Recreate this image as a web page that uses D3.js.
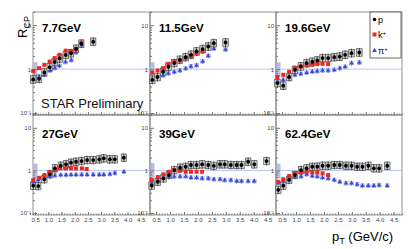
<!DOCTYPE html>
<html>
<head>
<meta charset="utf-8">
<script src="https://cdn.jsdelivr.net/npm/d3@7"></script>
<style>
body { margin: 0; background: #fff; }
svg { display: block; font-family: "Liberation Sans", Arial, sans-serif; }
</style>
</head>
<body>
<div id="chart"></div>
<script>
// panel labels, in order left-to-right, top-to-bottom
var energies = ['7.7GeV', '11.5GeV', '19.6GeV', '27GeV', '39GeV', '62.4GeV'];
var xTicks = [0.5, 1, 1.5, 2, 2.5, 3, 3.5, 4, 4.5];
var yTicks = [0.1, 1, 10];

// proton (black)
var protonPt = [
  [0.43, 0.65, 0.85, 1.05, 1.24, 1.43, 1.66, 1.86, 2.05, 2.25, 2.7],
  [0.36, 0.55, 0.75, 0.94, 1.15, 1.35, 1.56, 1.75, 1.95, 2.17, 2.37, 2.57, 2.99],
  [0.33, 0.54, 0.75, 0.96, 1.17, 1.38, 1.58, 1.76, 1.95, 2.15, 2.37, 2.57, 2.76, 2.99, 3.27],
  [0.43, 0.62, 0.85, 1.06, 1.25, 1.47, 1.67, 1.86, 2.05, 2.26, 2.47, 2.7, 2.93, 3.1, 3.33, 3.52, 3.86],
  [0.34, 0.56, 0.76, 0.96, 1.15, 1.36, 1.56, 1.75, 1.95, 2.15, 2.37, 2.57, 2.79, 2.96, 3.18, 3.39, 3.56, 3.8, 4.02, 4.46],
  [0.36, 0.54, 0.75, 0.96, 1.18, 1.38, 1.58, 1.76, 1.95, 2.15, 2.37, 2.57, 2.79, 2.99, 3.19, 3.38, 3.59, 3.79, 3.98, 4.27]
];
var protonRcp = [
  [0.58, 0.6, 0.84, 1.1, 1.45, 1.75, 2.1, 2.3, 2.9, 3.8, 4.2],
  [0.57, 0.66, 0.87, 1.13, 1.37, 1.63, 1.87, 2.12, 2.52, 2.86, 3.27, 3.9, 4.04],
  [0.48, 0.42, 0.66, 0.96, 1.15, 1.37, 1.47, 1.57, 1.78, 1.78, 1.87, 1.93, 2.12, 2.31, 2.39],
  [0.44, 0.43, 0.62, 0.81, 1.12, 1.29, 1.39, 1.52, 1.6, 1.66, 1.75, 1.75, 1.82, 1.92, 1.82, 1.82, 1.99],
  [0.44, 0.54, 0.65, 0.78, 1.02, 1.16, 1.22, 1.34, 1.34, 1.39, 1.34, 1.28, 1.39, 1.39, 1.34, 1.34, 1.34, 1.6, 1.39, 1.66],
  [0.35, 0.44, 0.6, 0.78, 1.02, 1.12, 1.22, 1.22, 1.29, 1.29, 1.34, 1.34, 1.29, 1.29, 1.22, 1.22, 1.29, 1.12, 1.12, 1.29]
];

// kaon (red)
var kaonPt = [
  [0.43, 0.65, 0.85, 1.05, 1.24, 1.43, 1.66, 1.86, 2.05, 2.25],
  [0.36, 0.55, 0.75, 0.94, 1.15, 1.35, 1.56, 1.75, 1.95, 2.17],
  [0.33, 0.54, 0.75, 0.96, 1.17, 1.38, 1.58, 1.76, 1.95, 2.15],
  [0.43, 0.65, 0.85, 1.06, 1.25, 1.44, 1.67, 1.86, 2.05, 2.27, 2.45],
  [0.34, 0.56, 0.76, 0.96, 1.15, 1.36, 1.56, 1.75, 1.95, 2.15],
  [0.36, 0.54, 0.75, 0.96, 1.18, 1.38, 1.58, 1.76, 1.95, 2.15]
];
var kaonRcp = [
  [0.91, 1.05, 1.25, 1.49, 1.78, 2.12, 2.63, 2.52, 2.86, 4.0],
  [0.83, 0.93, 1.05, 1.32, 1.49, 1.57, 1.78, 2.0, 2.31, 2.52],
  [0.66, 0.74, 0.87, 1.05, 1.15, 1.21, 1.25, 1.3, 1.32, 1.3],
  [0.59, 0.67, 0.78, 0.9, 1.02, 1.12, 1.12, 1.12, 1.12, 1.12, 1.08],
  [0.59, 0.7, 0.81, 0.93, 1.02, 0.98, 0.93, 0.93, 0.93, 0.93],
  [0.54, 0.62, 0.74, 0.86, 0.9, 0.93, 0.9, 0.9, 0.86, 0.78]
];

// pion (blue)
var pionPt = [
  [0.43, 0.65, 0.85, 1.07, 1.25, 1.42, 1.65, 1.87, 2.05, 2.27],
  [0.36, 0.55, 0.75, 0.94, 1.15, 1.35, 1.56, 1.75, 1.95, 2.17, 2.37, 2.57, 2.99],
  [0.33, 0.54, 0.75, 0.96, 1.17, 1.38, 1.58, 1.76, 1.95, 2.15, 2.37, 2.57, 2.76, 2.99, 3.27],
  [0.43, 0.62, 0.85, 1.06, 1.25, 1.47, 1.67, 1.86, 2.05, 2.26, 2.47, 2.7, 2.93, 3.1, 3.33, 3.52, 3.86],
  [0.34, 0.56, 0.76, 0.96, 1.15, 1.36, 1.56, 1.75, 1.95, 2.15, 2.37, 2.57, 2.79, 2.96, 3.18, 3.39, 3.56, 3.8, 4.02],
  [0.36, 0.54, 0.75, 0.96, 1.18, 1.38, 1.58, 1.76, 1.95, 2.15, 2.37, 2.57, 2.79, 2.99, 3.19, 3.38, 3.59, 3.79, 3.98, 4.27]
];
var pionRcp = [
  [0.58, 0.66, 0.74, 0.93, 1.05, 1.19, 1.45, 1.6, 2.4, 3.5],
  [0.57, 0.68, 0.72, 0.8, 0.86, 0.93, 1.03, 1.15, 1.22, 1.5, 2.0, 2.9, 2.8],
  [0.52, 0.57, 0.66, 0.74, 0.78, 0.83, 0.87, 0.9, 0.93, 0.93, 0.96, 1.05, 1.13, 1.37, 1.41],
  [0.54, 0.6, 0.7, 0.74, 0.76, 0.78, 0.78, 0.79, 0.79, 0.8, 0.8, 0.8, 0.8, 0.8, 0.82, 0.86, 0.93],
  [0.5, 0.6, 0.68, 0.72, 0.72, 0.72, 0.72, 0.68, 0.68, 0.65, 0.65, 0.62, 0.62, 0.59, 0.59, 0.56, 0.56, 0.56, 0.56],
  [0.5, 0.56, 0.65, 0.72, 0.72, 0.81, 0.74, 0.72, 0.68, 0.65, 0.6, 0.54, 0.5, 0.5, 0.47, 0.44, 0.44, 0.44, 0.45, 0.44]
];

// normalisation uncertainty band around 1
var normLow = [0.62, 0.6, 0.66, 0.6, 0.55, 0.64];
var normHigh = [1.44, 1.44, 1.44, 1.44, 1.5, 1.44];

var W = 415, H = 249;
var svg = d3.select('#chart').append('svg').attr('width', W).attr('height', H);

var cols = [[33, 150], [150, 276], [276, 402]];
var rows = [[12, 115], [115, 215]];
var xDomains = [[0.42, 4.85], [0.28, 4.8], [0.28, 4.8]];
var labelBase = [31.5, 138];

var minorX = d3.range(3, 49).map(function(d) { return d / 10; });
var minorY = [0.2, 0.3, 0.4, 0.5, 0.6, 0.7, 0.8, 0.9, 2, 3, 4, 5, 6, 7, 8, 9, 20];

function supFmt(d) { return d == 0.1 ? '10\u207B\u00B9' : (d == 1 ? '1' : '10'); }

energies.forEach(function(label, i) {
  var c = i % 3, r = Math.floor(i / 3);
  var x = d3.scaleLinear().domain(xDomains[c]).range(cols[c]);
  var y = d3.scaleLog().domain([0.09, 20]).range([rows[r][1], rows[r][0]]);
  var g = svg.append('g');

  // frame
  g.append('rect')
    .attr('x', cols[c][0]).attr('y', rows[r][0])
    .attr('width', cols[c][1] - cols[c][0]).attr('height', rows[r][1] - rows[r][0])
    .attr('fill', 'none').attr('stroke', '#777').attr('stroke-width', 0.8);

  // norm band
  g.append('rect')
    .attr('x', x(xDomains[c][0]) + 0.5).attr('y', y(normHigh[i]))
    .attr('width', 4).attr('height', y(normLow[i]) - y(normHigh[i]))
    .attr('fill', '#a9b0e2').attr('opacity', 0.85);

  // line at unity
  g.append('line')
    .attr('x1', cols[c][0]).attr('x2', cols[c][1])
    .attr('y1', y(1)).attr('y2', y(1))
    .attr('stroke', '#bcc3ec').attr('stroke-width', 1);

  // minor ticks
  g.append('g').attr('transform', 'translate(0,' + rows[r][1] + ')')
    .call(d3.axisBottom(x).tickValues(minorX).tickSizeInner(-1.5).tickSizeOuter(0).tickFormat(''))
    .call(function(a) { a.select('.domain').remove(); a.selectAll('line').attr('stroke', '#777'); });
  g.append('g').attr('transform', 'translate(' + cols[c][0] + ',0)')
    .call(d3.axisLeft(y).tickValues(minorY).tickSizeInner(-2).tickSizeOuter(0).tickFormat(''))
    .call(function(a) { a.select('.domain').remove(); a.selectAll('line').attr('stroke', '#777'); });

  // major ticks
  var xa = d3.axisBottom(x).tickValues(xTicks).tickSizeInner(-3).tickSizeOuter(0).tickPadding(3);
  if (r == 0) xa.tickFormat('');
  g.append('g').attr('transform', 'translate(0,' + rows[r][1] + ')')
    .call(xa)
    .call(function(a) {
      a.select('.domain').remove();
      a.selectAll('line').attr('stroke', '#777');
      a.selectAll('text').attr('font-size', 6).attr('fill', '#444').attr('font-family', 'Liberation Sans, Arial, sans-serif');
    });
  g.append('g').attr('transform', 'translate(' + cols[c][0] + ',0)')
    .call(d3.axisLeft(y).tickValues(yTicks).tickSizeInner(-4).tickSizeOuter(0).tickPadding(2).tickFormat(supFmt))
    .call(function(a) {
      a.select('.domain').remove();
      a.selectAll('line').attr('stroke', '#777');
      a.selectAll('text').attr('font-size', 6).attr('fill', '#444').attr('font-family', 'Liberation Sans, Arial, sans-serif');
    });

  var pion = pionPt[i].map(function(p, j) { return {pt: p, v: pionRcp[i][j]}; });
  var proton = protonPt[i].map(function(p, j) { return {pt: p, v: protonRcp[i][j]}; });
  var kaon = kaonPt[i].map(function(p, j) { return {pt: p, v: kaonRcp[i][j]}; });

  // systematic boxes
  g.selectAll('.pibox').data(pion).enter().append('rect')
    .attr('x', function(d) { return x(d.pt - 0.07); })
    .attr('y', function(d) { return y(d.v * 1.1); })
    .attr('width', function(d) { return x(d.pt + 0.07) - x(d.pt - 0.07); })
    .attr('height', function(d) { return y(d.v / 1.1) - y(d.v * 1.1); })
    .attr('fill', '#eef0fa').attr('stroke', '#a3addf').attr('stroke-width', 0.6);

  g.selectAll('.pbox').data(proton).enter().append('rect')
    .attr('x', function(d) { return x(d.pt - 0.1); })
    .attr('y', function(d) { return y(d.v * 1.22); })
    .attr('width', function(d) { return x(d.pt + 0.1) - x(d.pt - 0.1); })
    .attr('height', function(d) { return y(d.v / 1.22) - y(d.v * 1.22); })
    .attr('fill', '#cdcdcd').attr('stroke', '#555').attr('stroke-width', 0.7);

  // error bars
  g.selectAll('.perr').data(proton).enter().append('line')
    .attr('x1', function(d) { return x(d.pt); }).attr('x2', function(d) { return x(d.pt); })
    .attr('y1', function(d) { return y(d.v * 1.27); }).attr('y2', function(d) { return y(d.v / 1.27); })
    .attr('stroke', '#222').attr('stroke-width', 0.7);
  g.selectAll('.pierr').data(pion).enter().append('line')
    .attr('x1', function(d) { return x(d.pt); }).attr('x2', function(d) { return x(d.pt); })
    .attr('y1', function(d) { return y(d.v * 1.14); }).attr('y2', function(d) { return y(d.v / 1.14); })
    .attr('stroke', '#3b4fd6').attr('stroke-width', 0.6);

  // markers
  g.selectAll('.pi').data(pion).enter().append('path')
    .attr('d', d3.symbol().type(d3.symbolTriangle).size(9))
    .attr('transform', function(d) { return 'translate(' + x(d.pt) + ',' + y(d.v) + ')'; })
    .attr('fill', '#3448dc');
  g.selectAll('.k').data(kaon).enter().append('rect')
    .attr('x', function(d) { return x(d.pt) - 2; })
    .attr('y', function(d) { return y(d.v) - 2; })
    .attr('width', 4).attr('height', 4)
    .attr('fill', '#ea2a22');
  g.selectAll('.p').data(proton).enter().append('circle')
    .attr('cx', function(d) { return x(d.pt); })
    .attr('cy', function(d) { return y(d.v); })
    .attr('r', 1.9).attr('fill', '#000');

  // energy label
  g.append('text')
    .attr('x', cols[c][0] + 9).attr('y', labelBase[r])
    .attr('font-size', 11.5).attr('font-weight', 'bold').attr('fill', '#000')
    .text(label);
});

// legend
var leg = svg.append('g');
leg.append('rect').attr('x', 370).attr('y', 12).attr('width', 31).attr('height', 46)
  .attr('fill', '#fff').attr('stroke', '#444').attr('stroke-width', 0.8);
leg.append('circle').attr('cx', 374.5).attr('cy', 19.5).attr('r', 1.8).attr('fill', '#000');
leg.append('rect').attr('x', 372.5).attr('y', 32.5).attr('width', 4).attr('height', 4).attr('fill', '#ea2a22');
leg.append('path').attr('d', d3.symbol().type(d3.symbolTriangle).size(10))
  .attr('transform', 'translate(374.5,50.5)').attr('fill', '#3448dc');
leg.append('text').attr('x', 378).attr('y', 22.5).attr('font-size', 9).text('p');
var kt = leg.append('text').attr('x', 378).attr('y', 38).attr('font-size', 9);
kt.append('tspan').text('k');
kt.append('tspan').attr('dy', -3).attr('font-size', 6).text('+');
var pt = leg.append('text').attr('x', 378).attr('y', 54).attr('font-size', 9);
pt.append('tspan').text('\u03C0');
pt.append('tspan').attr('dy', -3).attr('font-size', 6).text('+');

// STAR Preliminary
svg.append('text').attr('x', 41).attr('y', 108).attr('font-size', 13).attr('fill', '#111')
  .text('STAR Preliminary');

// axis titles
var yt = svg.append('text').attr('transform', 'translate(27,38) rotate(-90)').attr('font-size', 13);
yt.append('tspan').text('R');
yt.append('tspan').attr('dy', 3).attr('font-size', 9).text('CP');

var xt = svg.append('text').attr('x', 332).attr('y', 241).attr('font-size', 13);
xt.append('tspan').text('p');
xt.append('tspan').attr('dy', 3).attr('font-size', 9).text('T');
xt.append('tspan').attr('dy', -3).text(' (GeV/c)');
</script>
</body>
</html>
